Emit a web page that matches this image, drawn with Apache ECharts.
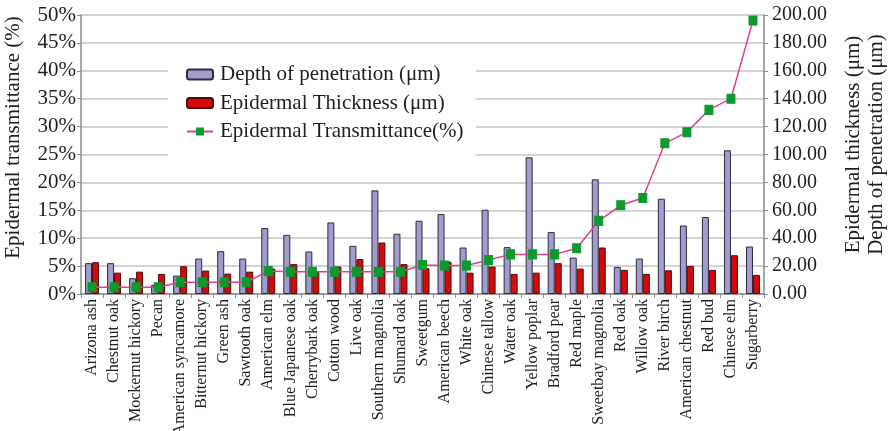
<!DOCTYPE html>
<html>
<head>
<meta charset="utf-8">
<script src="https://cdn.jsdelivr.net/npm/echarts@6/dist/echarts.min.js"></script>
<style>
  html, body { margin: 0; padding: 0; background: #fff; }
  #chart { width: 890px; height: 431px; }
</style>
</head>
<body>
<div id="chart"></div>
<script>
// Tree species, in order of increasing epidermal transmittance
const species = [
  'Arizona ash', 'Chestnut oak', 'Mockernut hickory', 'Pecan', 'American syncamore',
  'Bitternut hickory', 'Green ash', 'Sawtooth oak', 'American elm', 'Blue Japanese oak',
  'Cherrybark oak', 'Cotton wood', 'Live oak', 'Southern magnolia', 'Shumard oak',
  'Sweetgum', 'American beech', 'White oak', 'Chinese tallow', 'Water oak',
  'Yellow poplar', 'Bradford pear', 'Red maple', 'Sweetbay magnolia', 'Red oak',
  'Willow oak', 'River birch', 'American chestnut', 'Red bud', 'Chinese elm', 'Sugarberry'
];

// Depth of penetration (µm)
const depthOfPenetration = [
  22.1, 22.1, 11.3, 6.5, 13.2, 25.4, 30.7, 25.4, 47.3, 42.4,
  30.5, 51.3, 34.5, 74.3, 43.2, 52.5, 57.3, 33.3, 60.4, 33.6,
  98.0, 44.4, 26.1, 82.2, 19.4, 25.4, 68.3, 49.1, 55.2, 103.0, 34.0
];

// Epidermal thickness (µm)
const epidermalThickness = [
  22.8, 15.3, 16.0, 14.4, 19.9, 16.8, 14.6, 16.0, 18.2, 21.4,
  16.0, 19.7, 25.0, 36.9, 21.4, 18.5, 23.2, 15.3, 19.7, 14.4,
  15.3, 22.1, 18.2, 33.3, 17.3, 14.4, 17.0, 20.1, 17.3, 27.8, 13.7
];

// Epidermal transmittance (%)
const transmittance = [
  1.2, 1.2, 1.2, 1.2, 2.1, 2.1, 2.1, 2.1, 4.1, 4.0,
  4.0, 4.0, 4.0, 4.0, 4.0, 5.2, 5.1, 5.1, 6.1, 7.1,
  7.1, 7.1, 8.2, 13.1, 15.9, 17.2, 27.0, 29.0, 33.0, 35.0, 49.0
];

const seriesNames = [
  'Depth of penetration (μm)',
  'Epidermal Thickness (μm)',
  'Epidermal Transmittance(%)'
];

const FONT = '"Liberation Serif", "Times New Roman", serif';
const TEXT = '#1e1e1e';
const AXIS = '#8a8a8a';
const GRID = '#c4c4c4';

const chart = echarts.init(document.getElementById('chart'), null, { renderer: 'canvas' });

chart.setOption({
  animation: false,
  textStyle: { fontFamily: FONT, color: TEXT },
  grid: { left: 81, right: 126, top: 15, bottom: 137, containLabel: false, outerBoundsMode: 'none' },
  legend: {
    orient: 'vertical',
    left: 168,
    top: 52,
    padding: [12, 12, 22, 18],
    backgroundColor: '#ffffff',
    itemWidth: 26,
    itemHeight: 10,
    itemGap: 7.5,
    textStyle: { fontFamily: FONT, fontSize: 21, lineHeight: 20, color: TEXT, padding: [0, 0, 0, 2] },
    data: seriesNames
  },
  xAxis: {
    type: 'category',
    data: species,
    axisLine: { lineStyle: { color: AXIS, width: 1.5 } },
    axisTick: { show: true, length: 4, lineStyle: { color: AXIS } },
    axisLabel: {
      rotate: 90,
      interval: 0,
      margin: 5,
      fontFamily: FONT,
      fontSize: 16,
      color: TEXT
    }
  },
  yAxis: [
    {
      type: 'value',
      position: 'left',
      min: 0,
      max: 50,
      interval: 5,
      name: 'Epidermal transmittance (%)',
      nameLocation: 'middle',
      nameRotate: 90,
      nameGap: 57,
      nameTextStyle: { fontFamily: FONT, fontSize: 21, color: TEXT, padding: [0, 0, 0, 34] },
      axisLine: { show: true, lineStyle: { color: AXIS, width: 1.5 } },
      axisTick: { show: true, length: 4, lineStyle: { color: AXIS } },
      axisLabel: {
        margin: 5,
        fontFamily: FONT,
        fontSize: 21,
        color: TEXT,
        formatter: v => v + '%'
      },
      splitLine: { show: true, lineStyle: { color: GRID, width: 1.5 } }
    },
    {
      type: 'value',
      position: 'right',
      min: 0,
      max: 200,
      interval: 20,
      name: 'Epidermal thickness (μm)\nDepth of penetration (μm)',
      nameLocation: 'middle',
      nameRotate: 90,
      nameGap: 78,
      nameTextStyle: { fontFamily: FONT, fontSize: 21, lineHeight: 23, color: TEXT, padding: [0, 0, 0, 20] },
      axisLine: { show: true, lineStyle: { color: AXIS, width: 1.5 } },
      axisTick: { show: true, length: 4, lineStyle: { color: AXIS } },
      axisLabel: {
        margin: 8,
        fontFamily: FONT,
        fontSize: 20,
        color: TEXT,
        formatter: v => v.toFixed(2)
      },
      splitLine: { show: false }
    }
  ],
  series: [
    {
      name: seriesNames[0],
      type: 'bar',
      yAxisIndex: 1,
      data: depthOfPenetration,
      barWidth: 7,
      barGap: '0%',
      itemStyle: { color: '#a09ccb', borderColor: '#2e2a40', borderWidth: 1 }
    },
    {
      name: seriesNames[1],
      type: 'bar',
      yAxisIndex: 1,
      data: epidermalThickness,
      barWidth: 7,
      itemStyle: { color: '#d40a0a', borderColor: '#4a0c0c', borderWidth: 1 }
    },
    {
      name: seriesNames[2],
      type: 'line',
      yAxisIndex: 0,
      data: transmittance,
      symbol: 'rect',
      symbolSize: [8, 9],
      z: 5,
      lineStyle: { color: '#dc3f93', width: 1.5 },
      itemStyle: { color: '#0b9a2c', borderColor: '#0b9a2c' }
    }
  ]
});
</script>
</body>
</html>
